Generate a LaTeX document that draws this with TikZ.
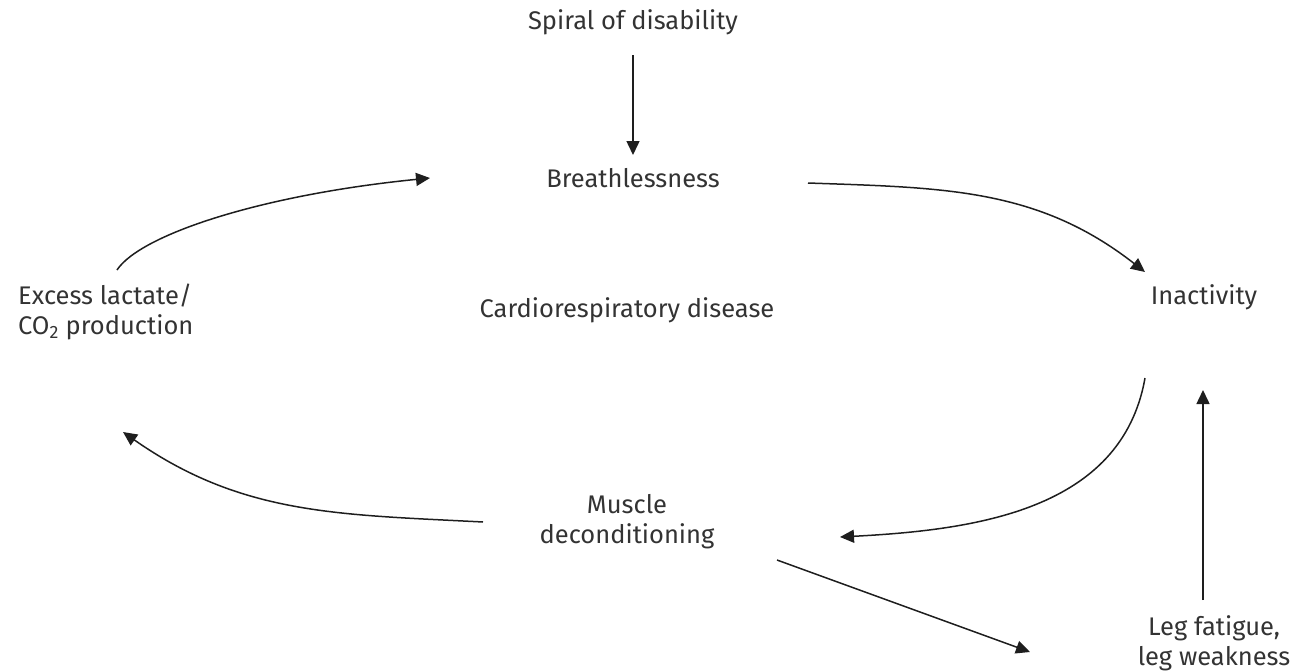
\documentclass[tikz,border=0pt]{standalone}
\usepackage{fontspec}
\setmainfont{Fira Sans}
\usepackage{tikz}
\usetikzlibrary{arrows.meta}

\definecolor{txt}{HTML}{333333}
\definecolor{ln}{HTML}{1E1E1E}

\begin{document}
\begin{tikzpicture}[x=1pt,y=1pt,
  lbl/.style={text=txt,font=\fontsize{25.5}{30}\selectfont,inner sep=0pt,align=center},
  arr/.style={draw=ln,line width=1.5pt,-{Triangle[length=14pt,width=13pt]}}]
\useasboundingbox (0,0) rectangle (1299,-670);
\node[lbl] (spiral) at (633,-22) {Spiral of disability};
\node[lbl] (breath) at (633,-178) {Breathlessness};
\node[lbl] (cardio) at (627,-310) {Cardiorespiratory disease};
\node[lbl,align=left,anchor=west] (excess) at (18,-312) {Excess lactate/\\CO\textsubscript{2} production};
\node[lbl] (inact) at (1204,-297) {Inactivity};
\node[lbl] (muscle) at (627,-522) {Muscle\\deconditioning};
\node[lbl] (leg) at (1214,-643) {Leg fatigue,\\leg weakness};
% ends of the arcs
\coordinate (a1) at (117,-270);
\coordinate (a2) at (430,-178);
\coordinate (b1) at (808,-183);
\coordinate (b2) at (1145,-272);
\coordinate (c1) at (1145,-378);
\coordinate (c2) at (840,-537);
\coordinate (d1) at (483,-522);
\coordinate (d2) at (123,-432);
\coordinate (e1) at (777,-560);
\coordinate (e2) at (1030,-652);
\coordinate (f1) at (1203,-600);
\coordinate (f2) at (1203,-390);
\coordinate (g1) at (633,-55);
\coordinate (g2) at (633,-155);
\draw[arr] (g1) -- (g2);
\draw[arr] (a1) .. controls (140,-235) and (260,-195) .. (a2);
\draw[arr] (b1) to[out=-2,in=142] (b2);
\draw[arr] (c1) to[out=-100,in=3] (c2);
\draw[arr] (d1) to[out=177,in=-35] (d2);
\draw[arr] (e1) -- (e2);
\draw[arr] (f1) -- (f2);
\end{tikzpicture}
\end{document}
